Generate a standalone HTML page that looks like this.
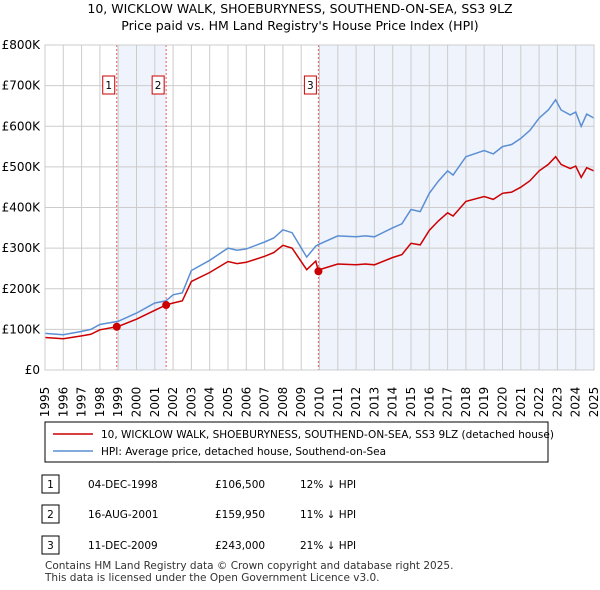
<!DOCTYPE html>
<html><head><meta charset="utf-8"><style>
body{margin:0;width:600px;height:590px;background:#fff;font-family:"Liberation Sans","DejaVu Sans",sans-serif;overflow:hidden;position:relative}
svg text{font-family:"DejaVu Sans","Liberation Sans",sans-serif}
.t{position:absolute;font-size:11px;color:#000}
</style></head><body>
<svg width="600" height="590" style="position:absolute;left:0;top:0">
<text x="300" y="13" text-anchor="middle" font-size="12.5">10, WICKLOW WALK, SHOEBURYNESS, SOUTHEND-ON-SEA, SS3 9LZ</text>
<text x="300" y="30" text-anchor="middle" font-size="12.5">Price paid vs. HM Land Registry's House Price Index (HPI)</text>
<g id="plot"></g>
<rect x="45" y="422" width="503" height="40" fill="#fff" stroke="#000" stroke-width="1"/>
<line x1="53" y1="434" x2="93" y2="434" stroke="#cc0000" stroke-width="1.5"/>
<text x="101" y="438" font-size="10.5">10, WICKLOW WALK, SHOEBURYNESS, SOUTHEND-ON-SEA, SS3 9LZ (detached house)</text>
<line x1="53" y1="451" x2="93" y2="451" stroke="#5b8fd4" stroke-width="1.5"/>
<text x="101" y="455" font-size="10.5">HPI: Average price, detached house, Southend-on-Sea</text>
<g font-size="10.5">
<rect x="42" y="475" width="17" height="18" fill="#fff" stroke="#000"/><text x="50.5" y="488" text-anchor="middle">1</text>
<text x="88" y="488">04-DEC-1998</text><text x="215" y="488">£106,500</text><text x="300" y="488">12% ↓ HPI</text>
<rect x="42" y="505" width="17" height="18" fill="#fff" stroke="#000"/><text x="50.5" y="518" text-anchor="middle">2</text>
<text x="88" y="518">16-AUG-2001</text><text x="215" y="518">£159,950</text><text x="300" y="518">11% ↓ HPI</text>
<rect x="42" y="536" width="17" height="18" fill="#fff" stroke="#000"/><text x="50.5" y="549" text-anchor="middle">3</text>
<text x="88" y="549">11-DEC-2009</text><text x="215" y="549">£243,000</text><text x="300" y="549">21% ↓ HPI</text>
</g>
<text x="45" y="569" font-size="10.5" fill="#333">Contains HM Land Registry data © Crown copyright and database right 2025.</text>
<text x="45" y="581" font-size="10.5" fill="#333">This data is licensed under the Open Government Licence v3.0.</text>
</svg>
<script>
const hpiYears=[1995,1996,1997,1997.5,1998,1999,2000,2001,2001.6,2002,2002.5,2003,2004,2005,2005.5,2006,2007,2007.5,2008,2008.5,2009.3,2009.8,2010,2011,2012,2012.5,2013,2014,2014.5,2015,2015.5,2016,2016.5,2017,2017.3,2018,2019,2019.5,2020,2020.5,2021,2021.5,2022,2022.5,2022.9,2023.2,2023.7,2024,2024.3,2024.6,2025];
const hpiValues=[90,87,95,100,112,120,140,165,170,185,190,245,270,300,295,298,315,325,345,338,278,305,310,330,328,330,328,350,360,395,390,435,465,490,480,525,540,532,550,555,570,590,620,640,665,640,628,635,600,630,620];
const priceYears=[1995,1996,1997,1997.5,1998,1998.92,1999,2000,2001,2001.62,2002,2002.5,2003,2004,2005,2005.5,2006,2007,2007.5,2008,2008.5,2009.3,2009.8,2009.94,2010,2011,2012,2012.5,2013,2014,2014.5,2015,2015.5,2016,2016.5,2017,2017.3,2018,2019,2019.5,2020,2020.5,2021,2021.5,2022,2022.5,2022.9,2023.2,2023.7,2024,2024.3,2024.6,2025];
const priceValues=[80,77,84,88,99,106.5,107,125,147,160,165,170,218,240,267,262,265,280,289,307,300,247,268,243,247,261,259,261,259,277,284,312,308,344,367,387,379,415,427,420,435,438,450,466,490,506,525,506,496,502,474,498,490];
const saleYears=[1998.92,2001.62,2009.94];
const saleValues=[106.5,159.95,243];
const saleLabels=["1","2","3"];
const yTicks=[0,100,200,300,400,500,600,700,800];
const yTickLabels=["£0","£100K","£200K","£300K","£400K","£500K","£600K","£700K","£800K"];
const xTicks=[1995,1996,1997,1998,1999,2000,2001,2002,2003,2004,2005,2006,2007,2008,2009,2010,2011,2012,2013,2014,2015,2016,2017,2018,2019,2020,2021,2022,2023,2024,2025];
const X0=45,X1=594,Y0=370,Y1=45;
const xs=y=>X0+(y-1995)/30*(X1-X0);
const ys=v=>Y0-v/800*(Y0-Y1);
const NS="http://www.w3.org/2000/svg";
const g=document.getElementById('plot');
function mk(t,a){const e=document.createElementNS(NS,t);for(const k in a)e.setAttribute(k,a[k]);g.appendChild(e);return e;}
let e;
e=mk('rect',{x:xs(saleYears[0]),y:Y1,width:xs(saleYears[1])-xs(saleYears[0]),height:Y0-Y1,fill:'#eef3fc'});


e=mk('rect',{x:xs(saleYears[2]),y:Y1,width:X1-xs(saleYears[2]),height:Y0-Y1,fill:'#eef3fc'});


xTicks.forEach((t,i)=>{
 e=mk('line',{x1:xs(t),x2:xs(t),y1:Y1,y2:Y0,stroke:'#cccccc','stroke-width':1});
 
 
 const x=xs(t)+4,y=Y0+32;
 e=mk('text',{x:x,y:y,'font-size':12,transform:`rotate(-90 ${x} ${y})`,'text-anchor':'middle'});
 e.textContent=String(t);
 
 
});
yTicks.forEach((t,i)=>{
 e=mk('line',{x1:X0,x2:X1,y1:ys(t),y2:ys(t),stroke:'#cccccc','stroke-width':1});
 
 
 e=mk('text',{x:X0-5,y:ys(t)+4,'font-size':12,'text-anchor':'end'});
 e.textContent=yTickLabels[i];
 
 
});
saleYears.forEach((s,i)=>{
 e=mk('line',{x1:xs(s),x2:xs(s),y1:Y1,y2:Y0,stroke:'#e06060','stroke-width':1,'stroke-dasharray':'2,2'});
 
 
});
function pts(a,b){return a.map((y,i)=>xs(y).toFixed(1)+','+ys(b[i]).toFixed(1)).join(' ');}
e=mk('polyline',{points:pts(hpiYears,hpiValues),fill:'none',stroke:'#5b8fd4','stroke-width':1.5});


e=mk('polyline',{points:pts(priceYears,priceValues),fill:'none',stroke:'#cc0000','stroke-width':1.5});


saleYears.forEach((s,i)=>{
 e=mk('circle',{cx:xs(s),cy:ys(saleValues[i]),r:4,fill:'#cc0000'});
 
 
 e=mk('rect',{x:xs(s)-14,y:76,width:12,height:18,fill:'#fff',stroke:'#cc0000'});
 
 
 e=mk('text',{x:xs(s)-8,y:89,'font-size':10.5,'text-anchor':'middle'});
 e.textContent=saleLabels[i];
 
 
});
e=mk('rect',{x:X0,y:Y1,width:X1-X0,height:Y0-Y1,fill:'none',stroke:'#cccccc'});


</script>
</body></html>
